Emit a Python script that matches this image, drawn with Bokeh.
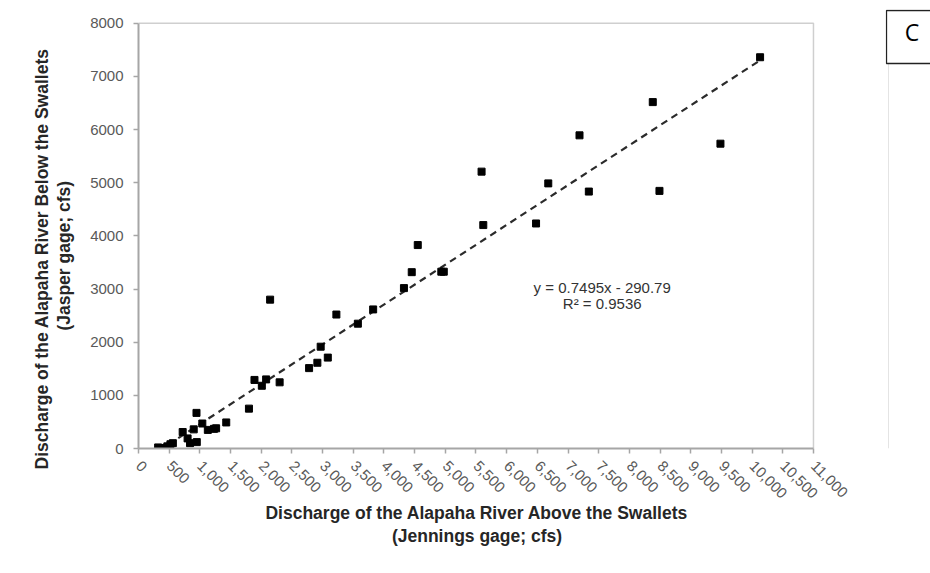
from bokeh.plotting import figure
from bokeh.layouts import row
from bokeh.models import (Range1d, FixedTicker, NumeralTickFormatter, ColumnDataSource,
                          Title)
from bokeh.core.properties import value
from bokeh.embed import file_html
from bokeh.resources import INLINE
import math

# Paired daily discharge (cfs): Jennings gage (above swallets) vs Jasper gage (below)
jennings_cfs = [320, 370, 420, 470, 520, 560, 720, 800, 840, 900, 950, 945,
                1040, 1130, 1230, 1265, 1430, 1800, 1890, 2010, 2080, 2300,
                2145, 2780, 2915, 2969, 3085, 3225, 3575, 3824, 4326, 4453,
                4551, 4935, 4975, 5591, 5619, 6479, 6678, 7187, 7339, 8381,
                8490, 9484, 10130]
jasper_cfs = [20, 0, 10, 40, 80, 100, 310, 190, 100, 360, 120, 670,
              470, 350, 370, 380, 490, 750, 1290, 1180, 1300, 1245,
              2800, 1512, 1613, 1915, 1710, 2520, 2348, 2616, 3017, 3317,
              3827, 3326, 3326, 5208, 4203, 4233, 4987, 5891, 4833, 6516,
              4846, 5734, 7360]

# Linear trendline coefficients
slope = 0.7495
intercept = -290.79
r_squared = 0.9536

x_ticks = [0, 500, 1000, 1500, 2000, 2500, 3000, 3500, 4000, 4500, 5000, 5500,
           6000, 6500, 7000, 7500, 8000, 8500, 9000, 9500, 10000, 10500, 11000]
y_ticks = [0, 1000, 2000, 3000, 4000, 5000, 6000, 7000, 8000]

panel_tag = "C"

FONT = "Liberation Sans"
NB = "\u00a0" * 11  # keeps the short rotated subtitle centred a little lower
x_max, y_max = x_ticks[-1], y_ticks[-1]

# The frame reaches a little above and right of the axis extents so the
# neighbouring strip (which shares the frame's top edge) can draw its tag box.
p = figure(width=885, height=573, output_backend="svg", toolbar_location=None,
           x_range=Range1d(0, 11033), y_range=Range1d(0, 8258),
           min_border_left=138, min_border_right=70, min_border_top=9,
           min_border_bottom=125)
p.background_fill_color = "white"
p.border_fill_color = "white"
p.grid.visible = False
p.outline_line_color = None

for ax in (p.xaxis[0], p.yaxis[0]):
    ax.axis_line_color = "#a6a6a6"
    ax.axis_line_width = 2
    ax.major_tick_line_color = "#a6a6a6"
    ax.major_tick_line_width = 1.5
    ax.major_tick_in = 0
    ax.major_tick_out = 5
    ax.minor_tick_line_color = None
    ax.major_label_text_font = FONT
    ax.major_label_text_font_size = "15px"
    ax.major_label_text_color = "#595959"
    ax.axis_label_text_font = FONT
    ax.axis_label_text_font_size = "17.5px"
    ax.axis_label_text_font_style = "bold"
    ax.axis_label_text_color = "#262626"

p.xaxis.bounds = (0, x_max)
p.xaxis.ticker = FixedTicker(ticks=x_ticks)
p.xaxis.formatter = NumeralTickFormatter(format="0,0")
p.xaxis.major_label_orientation = -math.pi / 4
p.xaxis.major_label_standoff = 10
p.xaxis.axis_label = "Discharge of the Alapaha River Above the Swallets\n(Jennings gage; cfs)"
p.xaxis.axis_label_standoff = -3
p.xaxis.axis_label_text_line_height = 1.15

p.yaxis.bounds = (0, y_max)
p.yaxis.ticker = FixedTicker(ticks=y_ticks)
p.yaxis.formatter = NumeralTickFormatter(format="0")
p.yaxis.major_label_standoff = 10
p.yaxis.axis_label = "(Jasper gage; cfs)" + NB
p.yaxis.axis_label_standoff = 13

# Outer line of the y title, started just below the frame's bottom edge
p.add_layout(Title(text="Discharge of the Alapaha River Below the Swallets",
                   align="left", offset=-21, vertical_align="bottom", standoff=0,
                   text_font=FONT, text_font_size="17.5px", text_font_style="bold",
                   text_color="#262626"), "left")

# Top and right edges of the plot area
p.line(x=[0, x_max, x_max], y=[y_max, y_max, 0], line_color="#cfcfcf", line_width=1.5)

# Trendline across the range of observed flows
x_lo, x_hi = min(jennings_cfs), max(jennings_cfs)
trend = ColumnDataSource(dict(x=[x_lo, x_hi],
                              y=[slope * x_lo + intercept, slope * x_hi + intercept]))
p.line("x", "y", source=trend, line_color="#2b2b2b", line_width=2.2, line_dash="7 5")

pts = ColumnDataSource(dict(x=jennings_cfs, y=jasper_cfs))
p.scatter("x", "y", source=pts, marker="square", size=7,
          fill_color="black", line_color="black")

eq_src = ColumnDataSource(dict(
    x=[7557, 7557], y=[3032, 2720],
    t=[f"y = {slope}x - {abs(intercept)}", f"R\u00b2 = {r_squared}"]))
p.text("x", "y", text="t", source=eq_src, text_font=value(FONT),
       text_font_size="15px", text_color="#333333",
       text_align="center", text_baseline="middle")

# Narrow strip at the right edge carrying the panel tag; its vertical range
# is in pixels from the top of the page (frame spans 9..448)
q = figure(width=45, height=573, output_backend="svg", toolbar_location=None,
           x_range=Range1d(0, 45), y_range=Range1d(448, 9),
           x_axis_location=None, y_axis_location=None, min_border=0)
q.grid.visible = False
q.outline_line_color = None
q.background_fill_color = "white"
q.border_fill_color = "white"
q.segment(x0=[3], y0=[63], x1=[3], y1=[448], line_color="#e4e4e4", line_width=1)
q.quad(left=[1], right=[60], top=[10], bottom=[63], fill_color="white",
       line_color="#222222", line_width=1.3)
q.text(x=[26.5], y=[31], text=[panel_tag], text_font=value("Open Sans"),
       text_font_size="23px", text_color="black", text_align="center",
       text_baseline="middle")

layout = row(p, q, spacing=0)
open("out.html", "w").write(file_html(layout, INLINE))
